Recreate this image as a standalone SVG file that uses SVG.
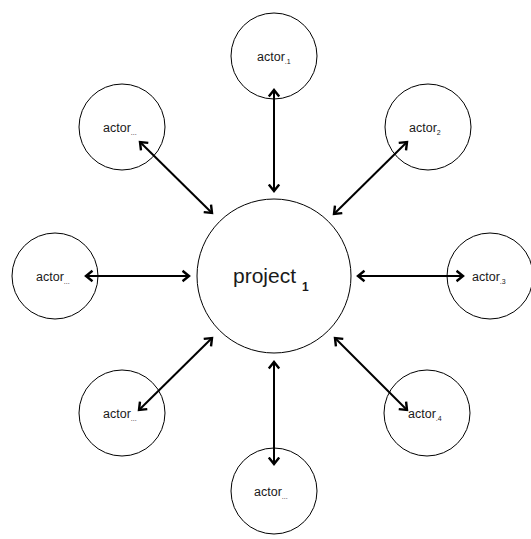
<svg xmlns="http://www.w3.org/2000/svg" width="531" height="539" viewBox="0 0 531 539">
  <style>
    .node { fill: #ffffff; stroke: #000000; stroke-width: 1; }
    .lbl { font-family: "Liberation Sans", Arial, sans-serif; font-size: 12.5px; fill: #1a1a1a; }
    .sub { font-size: 7px; }
    .main { font-family: "Liberation Sans", Arial, sans-serif; font-size: 21px; fill: #1a1a1a; }
    .link { stroke: #000000; stroke-width: 2; fill: none; marker-start: url(#tip); marker-end: url(#tip); }
  </style>
  <defs>
    <marker id="tip" viewBox="0 0 10 14" refX="7.5" refY="7" markerWidth="10" markerHeight="14" markerUnits="userSpaceOnUse" orient="auto-start-reverse">
      <path d="M1,1.8 L7.5,7 L1,12.2" fill="none" stroke="#000000" stroke-width="2.4"/>
    </marker>
  </defs>
  <rect width="531" height="539" fill="#ffffff"/>

  <g id="project">
    <circle class="node" cx="274" cy="276" r="77"/>
    <text class="main" x="233" y="283">project <tspan font-size="12" font-weight="bold" dy="8">1</tspan></text>
  </g>

  <g id="actor-1">
    <circle class="node" cx="274" cy="56" r="43"/>
    <text class="lbl" x="257" y="61">actor<tspan class="sub" dy="3">.1</tspan></text>
  </g>
  <g id="actor-2">
    <circle class="node" cx="428" cy="127" r="43"/>
    <text class="lbl" x="409" y="132">actor<tspan class="sub" dy="3">2</tspan></text>
  </g>
  <g id="actor-3">
    <circle class="node" cx="490" cy="276" r="43"/>
    <text class="lbl" x="472" y="281">actor<tspan class="sub" dy="3">.3</tspan></text>
  </g>
  <g id="actor-4">
    <circle class="node" cx="427" cy="413" r="43"/>
    <text class="lbl" x="408" y="418">actor<tspan class="sub" dy="3">.4</tspan></text>
  </g>
  <g id="actor-5">
    <circle class="node" cx="274" cy="491" r="43"/>
    <text class="lbl" x="254" y="496">actor<tspan class="sub" dy="3">...</tspan></text>
  </g>
  <g id="actor-6">
    <circle class="node" cx="122" cy="413" r="43"/>
    <text class="lbl" x="103" y="418">actor<tspan class="sub" dy="3">...</tspan></text>
  </g>
  <g id="actor-7">
    <circle class="node" cx="55" cy="276" r="43"/>
    <text class="lbl" x="36" y="281">actor<tspan class="sub" dy="3">...</tspan></text>
  </g>
  <g id="actor-8">
    <circle class="node" cx="122" cy="127" r="43"/>
    <text class="lbl" x="103" y="132">actor<tspan class="sub" dy="3">...</tspan></text>
  </g>

  <g id="connectors">
    <line class="link" x1="274" y1="191" x2="274" y2="90"/>
    <line class="link" x1="334" y1="214" x2="407" y2="142"/>
    <line class="link" x1="358" y1="276" x2="463" y2="276"/>
    <line class="link" x1="335" y1="338" x2="407" y2="410"/>
    <line class="link" x1="274" y1="362" x2="274" y2="464"/>
    <line class="link" x1="212" y1="338" x2="139" y2="410"/>
    <line class="link" x1="189" y1="276" x2="86" y2="276"/>
    <line class="link" x1="212" y1="213" x2="140" y2="142"/>
  </g>
</svg>
